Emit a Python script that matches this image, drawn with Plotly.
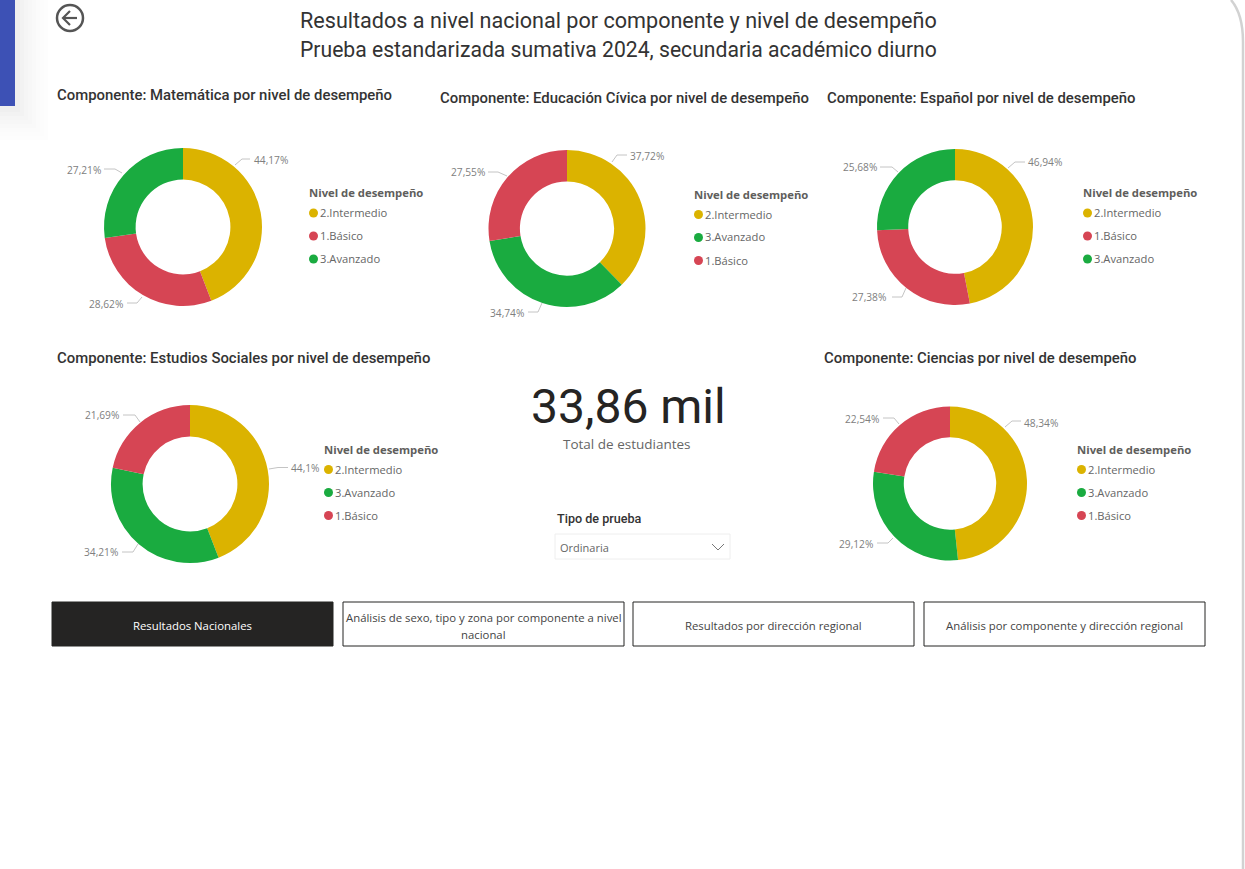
import plotly.graph_objects as go

W = 1245
H = 869

COLORS = {"2.Intermedio": "#DBB300", "1.Básico": "#D64554", "3.Avanzado": "#1AAB40"}

titulos = ["Matemática", "Educación Cívica", "Español", "Estudios Sociales", "Ciencias"]
orden_mat = ["2.Intermedio", "1.Básico", "3.Avanzado"]
orden_civ = ["2.Intermedio", "3.Avanzado", "1.Básico"]
orden_esp = ["2.Intermedio", "1.Básico", "3.Avanzado"]
orden_soc = ["2.Intermedio", "3.Avanzado", "1.Básico"]
orden_cie = ["2.Intermedio", "3.Avanzado", "1.Básico"]
val_mat = [44.17, 28.62, 27.21]
val_civ = [37.72, 34.74, 27.55]
val_esp = [46.94, 27.38, 25.68]
val_soc = [44.1, 34.21, 21.69]
val_cie = [48.34, 29.12, 22.54]

botones = ["Resultados Nacionales",
           "Análisis de sexo, tipo y zona por componente a nivel<br>nacional",
           "Resultados por dirección regional",
           "Análisis por componente y dirección regional"]

# layout in pixels: centre x, centre y, radius, title x, title y, legend x, legend y
paneles = [
    dict(cx=183, cy=227, r=79, tx=57, ty=95, lx=309, ly=193),
    dict(cx=567, cy=228.5, r=78.5, tx=440, ty=98, lx=694, ly=194.5),
    dict(cx=955, cy=227, r=78, tx=827, ty=98, lx=1083, ly=193),
    dict(cx=190, cy=484, r=79, tx=57, ty=358, lx=324, ly=449.5),
    dict(cx=950, cy=483.5, r=77, tx=824, ty=358, lx=1077, ly=449.5),
]
# per slice: leader line (on ring, elbow, end), then label edge x, label y, label anchor
guias = [
    [((235, 165), (242, 159), (250, 159), 254, 160, "left"),
     ((142, 297), (137, 303), (127, 303), 123, 304, "right"),
     ((122, 173), (115, 169), (104, 169), 101, 170, "right")],
    [((612, 162), (617, 155), (627, 155), 630, 156, "left"),
     ((542, 303), (538, 312), (528, 312), 524, 313, "right"),
     ((507, 176), (498, 172), (488, 172), 485, 172, "right")],
    [((1008, 168), (1015, 162), (1025, 162), 1028, 162, "left"),
     ((906, 288), (902, 297), (892, 297), 886, 297, "right"),
     ((898, 172), (892, 167), (880, 167), 877, 167, "right")],
    [((269, 469), (278, 467.5), (288, 467.5), 291, 468, "left"),
     ((138, 544), (133, 552), (122, 552), 118, 552, "right"),
     ((140, 422), (135, 415), (123, 415), 119, 415, "right")],
    [((1005, 427), (1012, 421), (1021, 421), 1024, 422.5, "left"),
     ((893, 538), (888, 543), (877, 543), 873, 544, "right"),
     ((899, 424), (894, 418), (883, 418), 879, 419, "right")],
]
boton_x = [52, 343, 633, 924]
sombra = ["#FDFDFD", "#FCFCFC", "#FBFBFB", "#F9F9F9", "#F7F7F7", "#F5F5F5", "#F2F2F2", "#EFEFEF"]

DIN = "Roboto"
SEGOE = "Open Sans"


def px(x):
    return x / W


def py(y):
    return 1 - y / H


def texto(x, y, text, size, color, family=SEGOE, anchor="left", weight=None):
    # annotations keep about a pixel of padding on the anchored side
    nudge = {"left": -1, "right": 1, "center": 0}[anchor]
    fig.add_annotation(x=px(x + nudge), y=py(y), xref="paper", yref="paper", text=text, showarrow=False,
                       xanchor=anchor, yanchor="middle", align="center", borderpad=0,
                       font=dict(family=family, size=size, color=color, weight=weight))


def caja(x0, y0, x1, y1, fill, line=None, width=1, opacity=1):
    fig.add_shape(type="rect", xref="paper", yref="paper", x0=px(x0), x1=px(x1), y0=py(y0), y1=py(y1),
                  fillcolor=fill, opacity=opacity, layer="below",
                  line=dict(color=line, width=width) if line else dict(width=0))


def ruta(puntos, color, width):
    path = "M " + " L ".join(f"{px(x)},{py(y)}" for x, y in puntos)
    fig.add_shape(type="path", xref="paper", yref="paper", path=path, line=dict(color=color, width=width))


def etiqueta(v):
    return f"{v:.2f}".rstrip("0").replace(".", ",") + "%"


fig = go.Figure()

# side tab and its soft shadow
for i, tono in enumerate(sombra):
    caja(0, 0, 48 - i * 4, 140 - i * 4, tono)
caja(0, 0, 15, 106, "#3D51B5")

# rounded edge of the page
fig.add_shape(type="path", xref="paper", yref="paper", line=dict(color="#D2D2D2", width=2.5),
              path=f"M {px(1231)},{py(0)} Q {px(1243)},{py(14)} {px(1243)},{py(42)} L {px(1243)},{py(869)}")

series = [(orden_mat, val_mat), (orden_civ, val_civ), (orden_esp, val_esp), (orden_soc, val_soc), (orden_cie, val_cie)]
for nombre, (orden, valores), p, guia in zip(titulos, series, paneles, guias):
    fig.add_trace(go.Pie(labels=orden, values=valores, hole=0.6, sort=False, direction="clockwise", rotation=0,
                         textinfo="none", showlegend=False, name=nombre,
                         marker=dict(colors=[COLORS[c] for c in orden], line=dict(width=0)),
                         domain=dict(x=[px(p["cx"] - p["r"]), px(p["cx"] + p["r"])],
                                     y=[py(p["cy"] + p["r"]), py(p["cy"] - p["r"])])))
    texto(p["tx"], p["ty"], f"Componente: {nombre} por nivel de desempeño", 14.9, "#333333", DIN, weight=500)
    texto(p["lx"], p["ly"], "Nivel de desempeño", 11.3, "#605E5C", SEGOE, weight=700)
    for i, c in enumerate(orden):
        ly = p["ly"] + 20 + i * 23
        fig.add_shape(type="circle", xref="paper", yref="paper", fillcolor=COLORS[c], line=dict(width=0),
                      x0=px(p["lx"]), x1=px(p["lx"] + 9), y0=py(ly + 4.5), y1=py(ly - 4.5))
        texto(p["lx"] + 11, ly - 0.5, c, 11.2, "#666666")
    for v, (a, b, e, tx, ty, lado) in zip(valores, guia):
        ruta([a, b, e], "#C4C4C4", 1)
        texto(tx, ty, etiqueta(v), 10.2, "#808080", anchor=lado)

# header
texto(618.5, 20, "Resultados a nivel nacional por componente y nivel de desempeño", 21.6, "#333333", DIN, anchor="center")
texto(618.5, 50, "Prueba estandarizada sumativa 2024, secundaria académico diurno", 21.15, "#333333", DIN, anchor="center")

# back button
fig.add_shape(type="circle", xref="paper", yref="paper", line=dict(color="#555555", width=2.5),
              x0=px(57), x1=px(83), y0=py(31), y1=py(5))
ruta([(77, 18), (63, 18)], "#555555", 2.2)
ruta([(70, 11), (63, 18), (70, 25)], "#555555", 2.2)

# card
texto(628, 406, "33,86 mil", 48, "#252423", DIN, anchor="center")
texto(627, 444, "Total de estudiantes", 13.5, "#666666", anchor="center")

# slicer
texto(557, 518, "Tipo de prueba", 12.6, "#333333", DIN, weight=500)
caja(555, 534, 730, 559, "#FFFFFF", "#EEEEEE")
texto(560, 547.5, "Ordinaria", 11, "#666666")
ruta([(712, 544), (718, 550), (724, 544)], "#777777", 1)

# navigation buttons
for i, (b, x0) in enumerate(zip(botones, boton_x)):
    activo = i == 0
    caja(x0, 602, x0 + 281, 646, "#252423" if activo else "#FFFFFF", "#252423", 1)
    color = "#FFFFFF" if activo else "#444444"
    lineas = b.split("<br>")
    if len(lineas) == 2:
        texto(x0 + 140.5, 617, lineas[0], 11.35, color, anchor="center")
        texto(x0 + 140.5, 634, lineas[1], 11.35, color, anchor="center")
    else:
        texto(x0 + 140.5, 625, b, 11.35, color, anchor="center")

fig.update_layout(width=W, height=H, margin=dict(l=0, r=0, t=0, b=0), paper_bgcolor="#FFFFFF", plot_bgcolor="#FFFFFF")
fig.write_html("out.html", config={"displayModeBar": False},
               post_script="document.body.style.margin='0';document.body.style.overflow='hidden';")
